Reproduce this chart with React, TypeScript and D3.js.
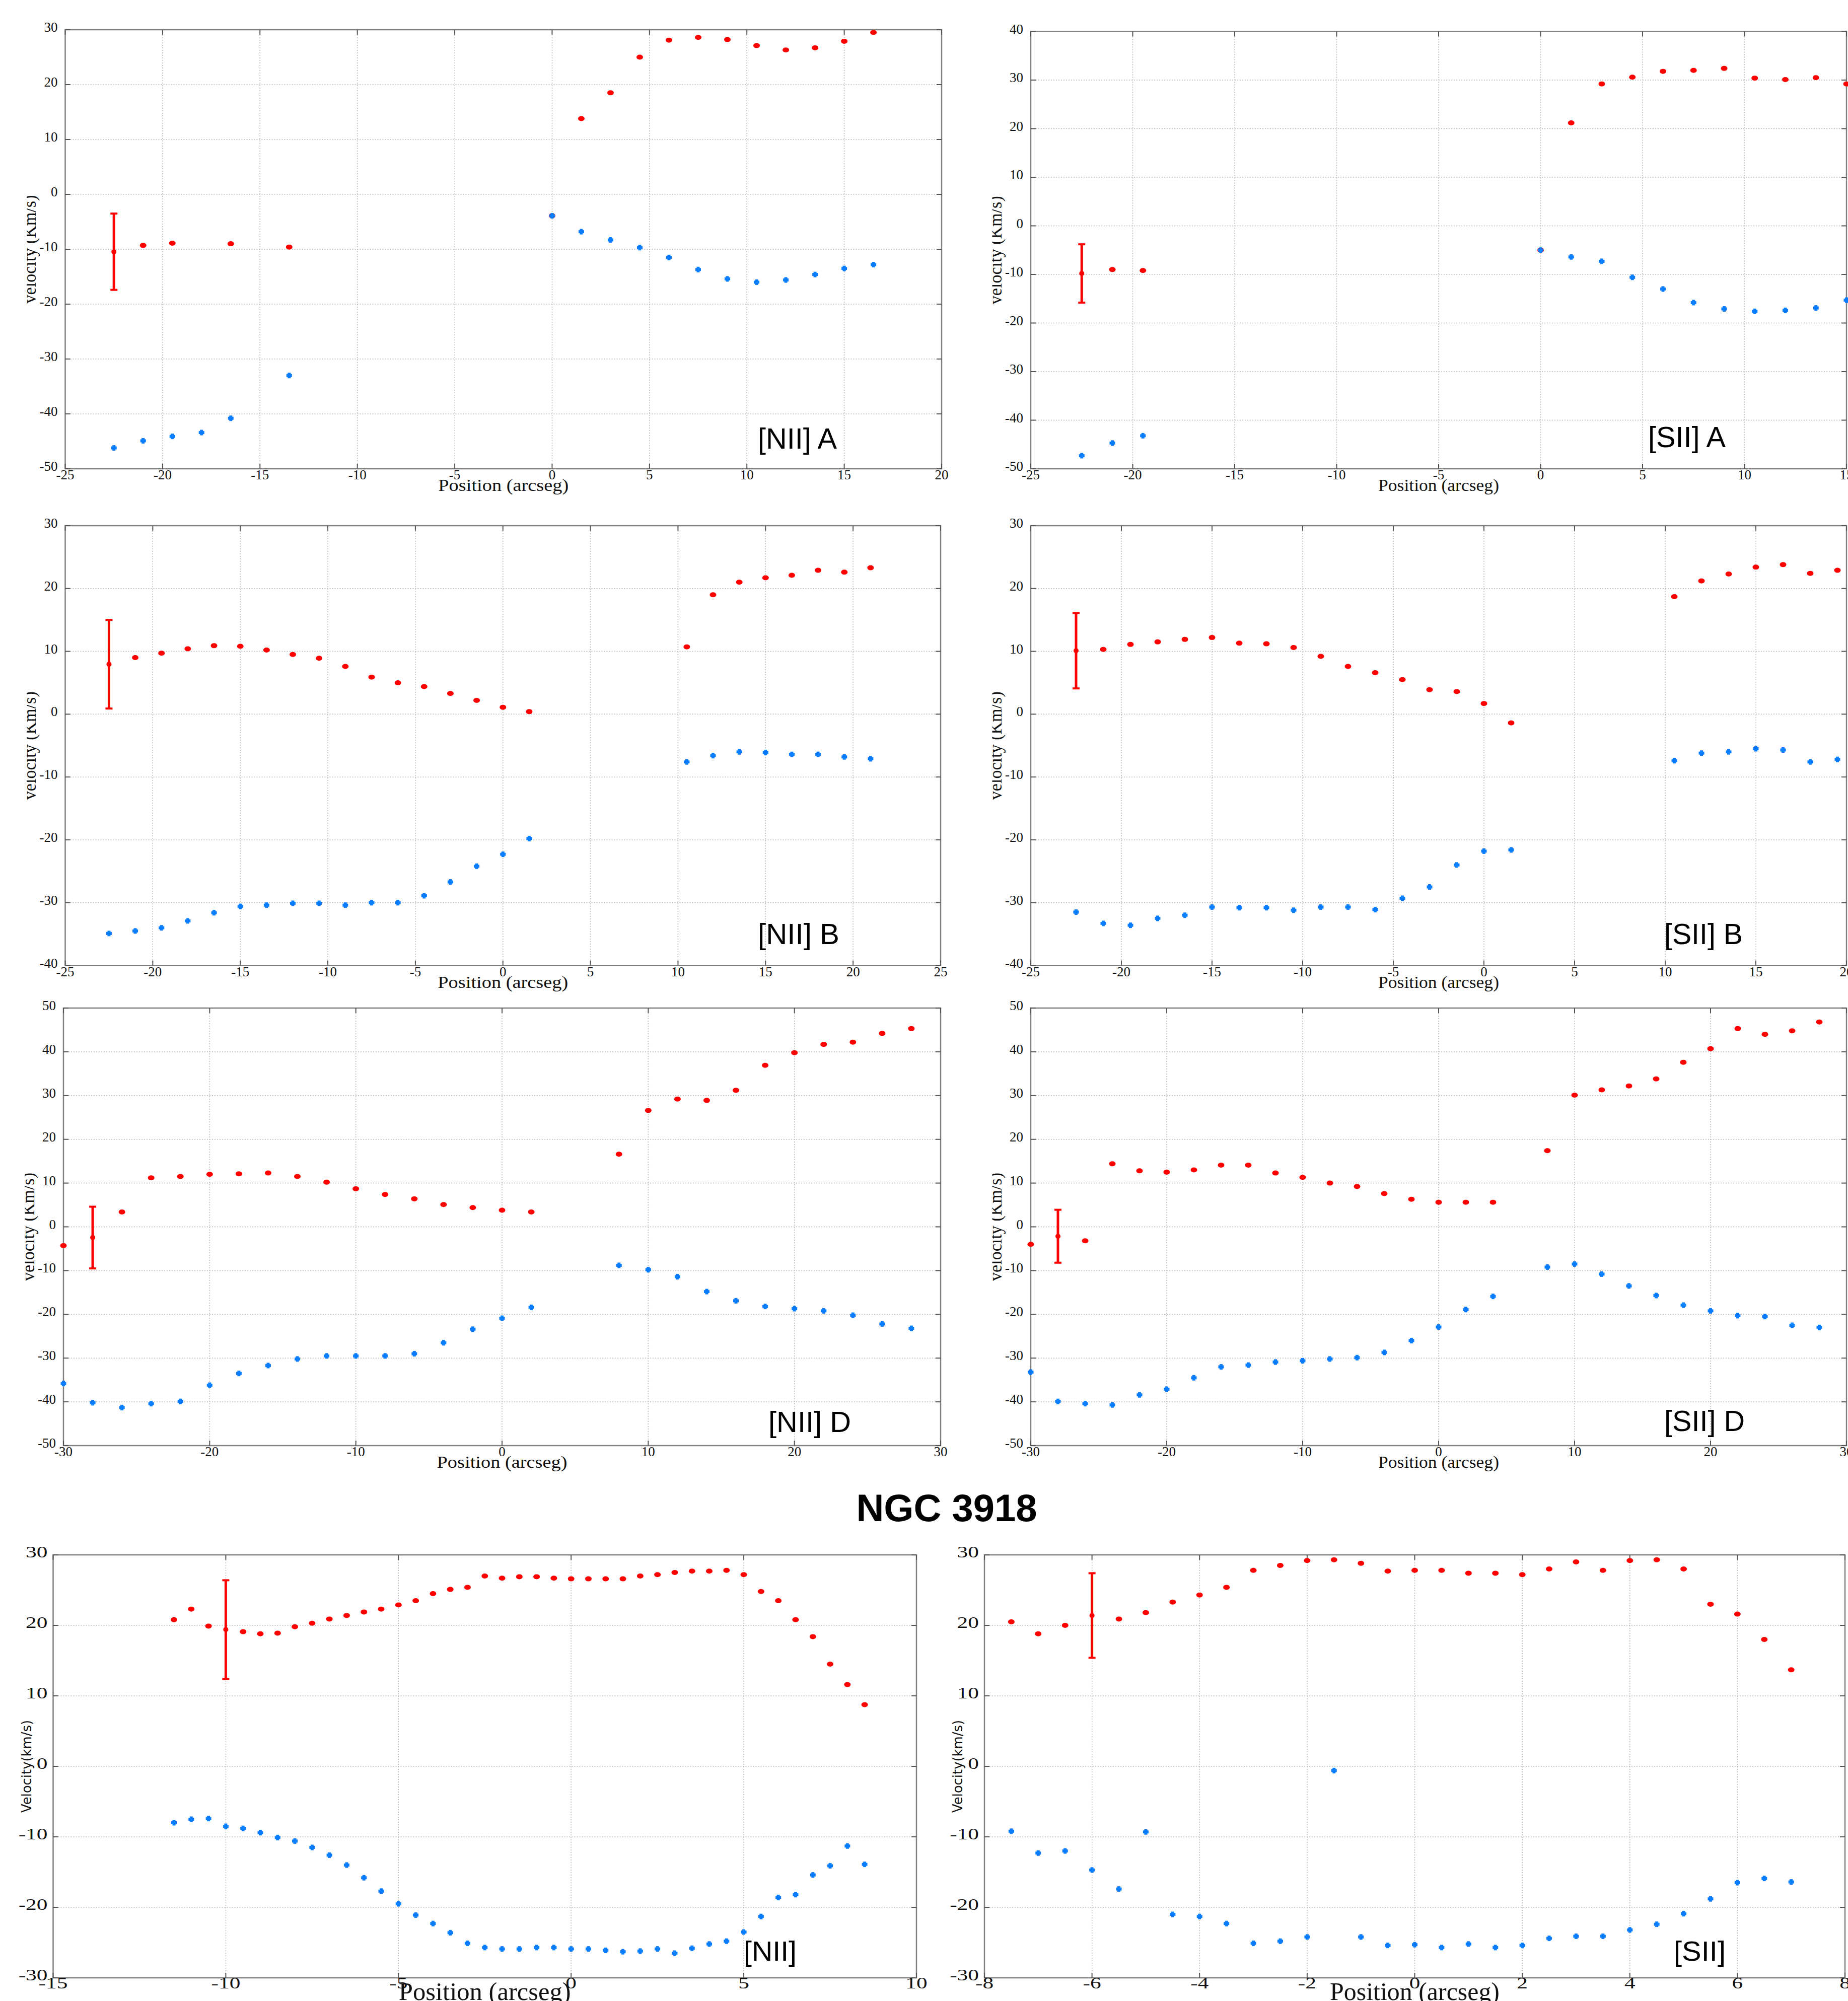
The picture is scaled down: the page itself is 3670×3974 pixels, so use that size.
import React from 'react';
import * as d3 from 'd3';

// values (position in arcsec, velocity in km/s)

// [NII] A
const niiA_redPos = [-22.5, -21, -19.5, -16.5, -13.5, 0, 1.5, 3, 4.5, 6, 7.5, 9, 10.5, 12, 13.5, 15, 16.5];
const niiA_redVel = [-10.4, -9.3, -8.9, -9.0, -9.6, -3.9, 13.8, 18.5, 25.0, 28.1, 28.6, 28.2, 27.1, 26.3, 26.7, 27.9, 29.5];
const niiA_bluePos = [-22.5, -21, -19.5, -18, -16.5, -13.5, 0, 1.5, 3, 4.5, 6, 7.5, 9, 10.5, 12, 13.5, 15, 16.5];
const niiA_blueVel = [-46.2, -44.9, -44.1, -43.4, -40.8, -33.0, -3.9, -6.8, -8.3, -9.7, -11.5, -13.7, -15.4, -16.0, -15.6, -14.6, -13.5, -12.8];
const niiA_err = [-22.5, -10.45, 6.95];

// [SII] A
const siiA_pos = [-22.5, -21, -19.5, 0, 1.5, 3, 4.5, 6, 7.5, 9, 10.5, 12, 13.5, 15];
const siiA_redVel = [-9.9, -9.0, -9.2, -5.0, 21.2, 29.2, 30.6, 31.8, 32.0, 32.4, 30.4, 30.1, 30.5, 29.2];
const siiA_blueVel = [-47.3, -44.7, -43.2, -5.0, -6.4, -7.3, -10.6, -13.0, -15.8, -17.1, -17.6, -17.4, -16.9, -15.3];
const siiA_err = [-22.5, -9.8, 6.0];

// [NII] B
const niiB_pos = [-22.5, -21, -19.5, -18, -16.5, -15, -13.5, -12, -10.5, -9, -7.5, -6, -4.5, -3, -1.5, 0, 1.5, 10.5, 12, 13.5, 15, 16.5, 18, 19.5, 21];
const niiB_redVel = [8.0, 9.0, 9.7, 10.4, 10.9, 10.8, 10.2, 9.5, 8.9, 7.6, 5.9, 5.0, 4.4, 3.3, 2.2, 1.1, 0.4, 10.7, 19.0, 21.0, 21.7, 22.1, 22.9, 22.6, 23.3];
const niiB_blueVel = [-34.9, -34.5, -34.0, -32.9, -31.6, -30.6, -30.4, -30.1, -30.1, -30.4, -30.0, -30.0, -28.9, -26.7, -24.2, -22.3, -19.8, -7.6, -6.6, -6.0, -6.1, -6.4, -6.4, -6.8, -7.1];
const niiB_err = [-22.5, 7.95, 7.05];

// [SII] B
const siiB_pos = [-22.5, -21, -19.5, -18, -16.5, -15, -13.5, -12, -10.5, -9, -7.5, -6, -4.5, -3, -1.5, 0, 1.5, 10.5, 12, 13.5, 15, 16.5, 18, 19.5];
const siiB_redVel = [10.0, 10.3, 11.1, 11.5, 11.9, 12.2, 11.3, 11.2, 10.6, 9.2, 7.6, 6.6, 5.5, 3.9, 3.6, 1.7, -1.4, 18.7, 21.2, 22.3, 23.4, 23.8, 22.4, 22.9];
const siiB_blueVel = [-31.5, -33.3, -33.6, -32.5, -32.0, -30.7, -30.8, -30.8, -31.2, -30.7, -30.7, -31.1, -29.3, -27.5, -24.0, -21.8, -21.6, -7.4, -6.2, -6.0, -5.5, -5.7, -7.6, -7.2];
const siiB_err = [-22.5, 10.1, 6.0];

// [NII] D
const niiD_pos = [-30, -28, -26, -24, -22, -20, -18, -16, -14, -12, -10, -8, -6, -4, -2, 0, 2, 8, 10, 12, 14, 16, 18, 20, 22, 24, 26, 28];
const niiD_redVel = [-4.3, -2.5, 3.4, 11.2, 11.5, 12.0, 12.1, 12.3, 11.5, 10.2, 8.7, 7.4, 6.4, 5.1, 4.4, 3.8, 3.4, 16.6, 26.6, 29.2, 28.9, 31.2, 36.9, 39.8, 41.7, 42.2, 44.2, 45.3];
const niiD_blueVel = [-35.8, -40.2, -41.3, -40.4, -39.9, -36.2, -33.5, -31.7, -30.2, -29.5, -29.5, -29.5, -29.0, -26.5, -23.4, -20.9, -18.4, -8.8, -9.8, -11.4, -14.8, -16.9, -18.2, -18.7, -19.2, -20.2, -22.2, -23.2];
const niiD_err = [-28, -2.45, 7.05];

// [SII] D
const siiD_pos = [-30, -28, -26, -24, -22, -20, -18, -16, -14, -12, -10, -8, -6, -4, -2, 0, 2, 4, 8, 10, 12, 14, 16, 18, 20, 22, 24, 26, 28];
const siiD_redVel = [-4.0, -2.1, -3.2, 14.4, 12.8, 12.5, 13.0, 14.1, 14.1, 12.3, 11.3, 10.0, 9.2, 7.6, 6.3, 5.6, 5.6, 5.6, 17.4, 30.1, 31.3, 32.2, 33.8, 37.6, 40.7, 45.3, 44.0, 44.8, 46.8];
const siiD_blueVel = [-33.2, -39.9, -40.4, -40.7, -38.4, -37.1, -34.5, -32.0, -31.6, -30.9, -30.6, -30.2, -29.9, -28.7, -26.0, -22.9, -18.9, -15.9, -9.2, -8.5, -10.8, -13.5, -15.7, -17.9, -19.2, -20.3, -20.5, -22.5, -23.0];
const siiD_err = [-28, -2.15, 6.05];

// NGC 3918 [NII]
const nii_pos = [-11.5, -11, -10.5, -10, -9.5, -9, -8.5, -8, -7.5, -7, -6.5, -6, -5.5, -5, -4.5, -4, -3.5, -3, -2.5, -2, -1.5, -1, -0.5, 0, 0.5, 1, 1.5, 2, 2.5, 3, 3.5, 4, 4.5, 5, 5.5, 6, 6.5, 7, 7.5, 8, 8.5];
const nii_redVel = [20.8, 22.3, 19.9, 19.4, 19.1, 18.8, 18.9, 19.8, 20.3, 20.9, 21.4, 21.9, 22.3, 22.9, 23.5, 24.5, 25.1, 25.4, 27.0, 26.7, 26.9, 26.9, 26.7, 26.6, 26.6, 26.6, 26.6, 27.0, 27.2, 27.5, 27.7, 27.7, 27.8, 27.2, 24.8, 23.5, 20.8, 18.4, 14.5, 11.6, 8.75];
const nii_blueVel = [-8.0, -7.5, -7.4, -8.5, -8.8, -9.4, -10.1, -10.6, -11.5, -12.6, -14.0, -15.8, -17.7, -19.5, -21.1, -22.3, -23.6, -25.1, -25.7, -25.9, -25.9, -25.7, -25.7, -25.9, -25.9, -26.1, -26.3, -26.2, -25.9, -26.5, -25.8, -25.2, -24.8, -23.5, -21.3, -18.6, -18.2, -15.4, -14.1, -11.3, -13.9];
const nii_err = [-10, 19.4, 7.0];

// NGC 3918 [SII]
const sii_pos = [-7.5, -7, -6.5, -6, -5.5, -5, -4.5, -4, -3.5, -3, -2.5, -2, -1.5, -1, -0.5, 0, 0.5, 1, 1.5, 2, 2.5, 3, 3.5, 4, 4.5, 5, 5.5, 6, 6.5, 7];
const sii_redVel = [20.5, 18.8, 20.0, 21.4, 20.9, 21.8, 23.3, 24.3, 25.4, 27.8, 28.5, 29.2, 29.3, 28.8, 27.7, 27.8, 27.8, 27.4, 27.4, 27.2, 28.0, 29.0, 27.8, 29.2, 29.3, 28.0, 23.0, 21.6, 18.0, 13.7];
const sii_blueVel = [-9.2, -12.3, -12.0, -14.7, -17.4, -9.3, -21.0, -21.3, -22.3, -25.1, -24.8, -24.2, -0.6, -24.2, -25.4, -25.3, -25.7, -25.2, -25.7, -25.4, -24.4, -24.1, -24.1, -23.2, -22.4, -20.9, -18.8, -16.5, -15.9, -16.4];
const sii_err = [-6, 21.4, 6.0];

const RED = '#ff0000';
const BLUE = '#0a7dff';
const SERIF = '"Liberation Serif", "Times New Roman", serif';
const SANS = '"Liberation Sans", Arial, sans-serif';

const panels = [
  { id: 'niiA', name: '[NII] A', redPos: niiA_redPos, redVel: niiA_redVel, bluePos: niiA_bluePos, blueVel: niiA_blueVel, err: niiA_err,
    xDomain: [-25, 20], xStep: 5, yDomain: [-50, 30], left: 129.5, right: 1870, top: 59, bottom: 931, big: false,
    nameX: 1505, nameY: 891, nameLen: 157, xLabLen: 259 },
  { id: 'siiA', name: '[SII] A', redPos: siiA_pos, redVel: siiA_redVel, bluePos: siiA_pos, blueVel: siiA_blueVel, err: siiA_err,
    xDomain: [-25, 15], xStep: 5, yDomain: [-50, 40], left: 2047, right: 3667, top: 62.5, bottom: 931, big: false,
    nameX: 3273, nameY: 888, nameLen: 154, xLabLen: 240 },
  { id: 'niiB', name: '[NII] B', redPos: niiB_pos, redVel: niiB_redVel, bluePos: niiB_pos, blueVel: niiB_blueVel, err: niiB_err,
    xDomain: [-25, 25], xStep: 5, yDomain: [-40, 30], left: 129.5, right: 1868, top: 1044, bottom: 1917.5, big: false,
    nameX: 1505, nameY: 1875, nameLen: 162, xLabLen: 259 },
  { id: 'siiB', name: '[SII] B', redPos: siiB_pos, redVel: siiB_redVel, bluePos: siiB_pos, blueVel: siiB_blueVel, err: siiB_err,
    xDomain: [-25, 20], xStep: 5, yDomain: [-40, 30], left: 2047, right: 3667, top: 1044, bottom: 1917.5, big: false,
    nameX: 3305, nameY: 1875, nameLen: 156, xLabLen: 240 },
  { id: 'niiD', name: '[NII] D', redPos: niiD_pos, redVel: niiD_redVel, bluePos: niiD_pos, blueVel: niiD_blueVel, err: niiD_err,
    xDomain: [-30, 30], xStep: 10, yDomain: [-50, 50], left: 126, right: 1868, top: 2002, bottom: 2871, big: false,
    nameX: 1526, nameY: 2844, nameLen: 164, xLabLen: 259 },
  { id: 'siiD', name: '[SII] D', redPos: siiD_pos, redVel: siiD_redVel, bluePos: siiD_pos, blueVel: siiD_blueVel, err: siiD_err,
    xDomain: [-30, 30], xStep: 10, yDomain: [-50, 50], left: 2047, right: 3667, top: 2002, bottom: 2871, big: false,
    nameX: 3305, nameY: 2842, nameLen: 160, xLabLen: 240 },
  { id: 'nii', name: '[NII]', redPos: nii_pos, redVel: nii_redVel, bluePos: nii_pos, blueVel: nii_blueVel, err: nii_err,
    xDomain: [-15, 10], xStep: 5, yDomain: [-30, 30], left: 105.5, right: 1820, top: 3088, bottom: 3928, big: true,
    nameX: 1477, nameY: 3894, nameLen: 105, xLabLen: 342 },
  { id: 'sii', name: '[SII]', redPos: sii_pos, redVel: sii_redVel, bluePos: sii_pos, blueVel: sii_blueVel, err: sii_err,
    xDomain: [-8, 8], xStep: 2, yDomain: [-30, 30], left: 1955, right: 3664, top: 3088, bottom: 3928, big: true,
    nameX: 3324, nameY: 3894, nameLen: 103, xLabLen: 337 },
];

function Panel({ p }: { p: any }) {
  const x = d3.scaleLinear().domain(p.xDomain).range([p.left, p.right]);
  const y = d3.scaleLinear().domain(p.yDomain).range([p.bottom, p.top]);
  const xTicks = d3.range(p.xDomain[0], p.xDomain[1] + 1e-6, p.xStep);
  const yTicks = d3.range(p.yDomain[0], p.yDomain[1] + 1e-6, 10);
  const tickFont = p.big ? 31 : 27;
  const sx = p.big ? 1.4 : 1;
  const tl = 10;
  const cx = (p.left + p.right) / 2;
  const cy = (p.top + p.bottom) / 2;
  const [ePos, eVel, eHalf] = p.err;
  const fmt = (t: number) => (t < 0 ? '-' + Math.abs(t) : String(t));

  return (
    <g>
      {xTicks.slice(1, -1).map((t: number) => (
        <line key={'gx' + t} x1={x(t)} x2={x(t)} y1={p.top} y2={p.bottom}
          stroke="#b8b8b8" strokeWidth={1.5} strokeDasharray="2,3" />
      ))}
      {yTicks.slice(1, -1).map((t: number) => (
        <line key={'gy' + t} x1={p.left} x2={p.right} y1={y(t)} y2={y(t)}
          stroke="#b8b8b8" strokeWidth={1.5} strokeDasharray="2,3" />
      ))}
      <rect x={p.left} y={p.top} width={p.right - p.left} height={p.bottom - p.top}
        fill="none" stroke="#7f7f7f" strokeWidth={2.5} />
      {xTicks.map((t: number) => (
        <g key={'tx' + t}>
          <line x1={x(t)} x2={x(t)} y1={p.bottom} y2={p.bottom - tl} stroke="#555" strokeWidth={2} />
          <line x1={x(t)} x2={x(t)} y1={p.top} y2={p.top + tl} stroke="#555" strokeWidth={2} />
          <text transform={`translate(${x(t)},${p.bottom + 21}) scale(${sx},1)`}
            textAnchor="middle" fontFamily={SERIF} fontSize={tickFont} fill="#111">
            {fmt(t)}
          </text>
        </g>
      ))}
      {yTicks.map((t: number) => (
        <g key={'ty' + t}>
          <line x1={p.left} x2={p.left + tl} y1={y(t)} y2={y(t)} stroke="#555" strokeWidth={2} />
          <line x1={p.right} x2={p.right - tl} y1={y(t)} y2={y(t)} stroke="#555" strokeWidth={2} />
          <text transform={`translate(${p.left - (p.big ? 11 : 15)},${y(t) + (p.big ? 5 : 4)}) scale(${sx},1)`}
            textAnchor="end" fontFamily={SERIF} fontSize={tickFont} fill="#111">
            {fmt(t)}
          </text>
        </g>
      ))}

      {p.big ? (
        <>
          <text transform={`translate(${p.left - 44},${cy}) rotate(-90)`} textAnchor="middle"
            fontFamily='"DejaVu Sans", Verdana, sans-serif' fontSize={26} fill="#111"
            textLength={184} lengthAdjust="spacingAndGlyphs">Velocity(km/s)</text>
          <text x={cx} y={3972} textAnchor="middle" fontFamily={SERIF} fontSize={50} fill="#111"
            textLength={p.xLabLen} lengthAdjust="spacingAndGlyphs">Position (arcseg)</text>
        </>
      ) : (
        <>
          <clipPath id={'yl-' + p.id}>
            <rect x={p.left - 76.5} y={p.top} width={60} height={p.bottom - p.top} />
          </clipPath>
          <g clipPath={`url(#yl-${p.id})`}>
            <text transform={`translate(${p.left - 58.5},${cy}) rotate(-90)`} textAnchor="middle"
              fontFamily={SERIF} fontSize={36} fill="#111"
              textLength={215} lengthAdjust="spacingAndGlyphs">velocity (Km/s)</text>
          </g>
          <text x={cx} y={p.bottom + 44} textAnchor="middle" fontFamily={SERIF} fontSize={34} fill="#111"
            textLength={p.xLabLen} lengthAdjust="spacingAndGlyphs">Position (arcseg)</text>
        </>
      )}

      <text x={p.nameX} y={p.nameY} fontFamily={SANS} fontSize={p.big ? 56 : 58} fill="#000"
        textLength={p.nameLen} lengthAdjust="spacingAndGlyphs">{p.name}</text>

      {/* red component */}
      <g fill={RED}>
        {p.redPos.map((v: number, i: number) => (
          v === ePos ? null :
            <ellipse key={'r' + i} cx={x(v)} cy={y(p.redVel[i])} rx={6.5} ry={5} />
        ))}
      </g>
      <g stroke={RED}>
        <line x1={x(ePos)} x2={x(ePos)} y1={y(eVel + eHalf)} y2={y(eVel - eHalf)} strokeWidth={5} />
        <line x1={x(ePos) - 7} x2={x(ePos) + 7} y1={y(eVel + eHalf)} y2={y(eVel + eHalf)} strokeWidth={4} />
        <line x1={x(ePos) - 7} x2={x(ePos) + 7} y1={y(eVel - eHalf)} y2={y(eVel - eHalf)} strokeWidth={4} />
        <circle cx={x(ePos)} cy={y(eVel)} r={5} fill={RED} stroke="none" />
      </g>

      {/* blue component */}
      <g fill={BLUE}>
        {p.bluePos.map((v: number, i: number) => {
          const bx = x(v);
          const by = y(p.blueVel[i]);
          return (
            <g key={'b' + i}>
              <rect x={bx - 5.5} y={by - 3} width={11} height={6} />
              <rect x={bx - 3} y={by - 5.5} width={6} height={11} />
            </g>
          );
        })}
      </g>
    </g>
  );
}

export default function App() {
  return (
    <svg width={3670} height={3974} style={{ position: 'absolute', left: 0, top: 0, background: '#fff' }}>
      <rect width={3670} height={3974} fill="#fff" />
      {panels.map((p) => <Panel key={p.id} p={p} />)}
      <text x={1880} y={3021} textAnchor="middle" fontFamily={SANS} fontWeight="bold" fontSize={76} fill="#000">
        NGC 3918
      </text>
    </svg>
  );
}
